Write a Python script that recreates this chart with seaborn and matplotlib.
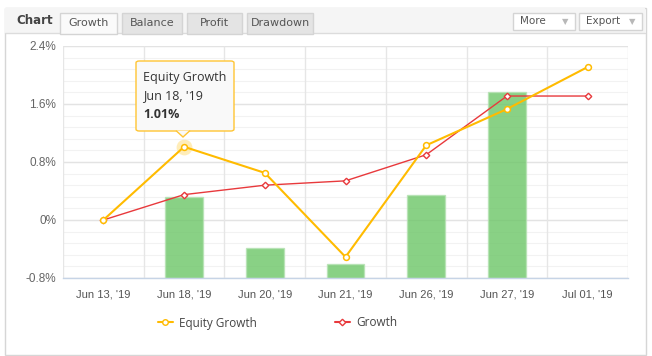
import numpy as np
import pandas as pd
import seaborn as sns
import matplotlib.pyplot as plt
from matplotlib.patches import Rectangle, FancyBboxPatch, Polygon
from matplotlib.lines import Line2D

# chart data (percent)
dates = ["Jun 13, '19", "Jun 18, '19", "Jun 20, '19", "Jun 21, '19",
         "Jun 26, '19", "Jun 27, '19", "Jul 01, '19"]
equity_growth = [0.0, 1.01, 0.65, -0.51, 1.03, 1.53, 2.11]
growth = [0.0, 0.35, 0.48, 0.54, 0.90, 1.71, 1.71]
bar_values = [np.nan, 0.32, -0.39, -0.61, 0.34, 1.76, np.nan]
y_ticks = [-0.8, 0, 0.8, 1.6, 2.4]
y_labels = ["-0.8%", "0%", "0.8%", "1.6%", "2.4%"]
ymin, ymax = -0.8, 2.4

W, H = 652, 356
sns.set_style("white")
plt.rcParams["font.family"] = ["Liberation Sans", "DejaVu Sans"]

fig = plt.figure(figsize=(W / 100, H / 100), dpi=100)
fig.patch.set_facecolor("white")


def fx(x):
    return x / W


def fy(y):
    return 1 - y / H


# outer panel + header (behind the axes)
fig.add_artist(Rectangle((fx(4.5), fy(355)), fx(645.5) - fx(4.5), fy(7.5) - fy(355),
                         transform=fig.transFigure, fc="white", ec="#d6d6d6", lw=1,
                         zorder=-3))
fig.add_artist(Rectangle((fx(5), fy(33)), fx(645) - fx(5), fy(8) - fy(33),
                         transform=fig.transFigure, fc="#f5f5f5", ec="none", zorder=-2))
fig.add_artist(Line2D([fx(5), fx(645)], [fy(33), fy(33)], transform=fig.transFigure,
                      color="#dcdcdc", lw=1, zorder=-2))
fig.text(fx(16), fy(21), "Chart", fontsize=8.5, fontweight="bold", color="#444444",
         va="center", family=["DejaVu Sans"])
tabs = [("Growth", 60, 117, True), ("Balance", 122, 182, False),
        ("Profit", 187, 242, False), ("Drawdown", 247, 313, False)]
for name, x0, x1, active in tabs:
    fig.add_artist(Rectangle((fx(x0), fy(33.5)), fx(x1) - fx(x0), fy(12.5) - fy(33.5),
                             transform=fig.transFigure,
                             fc="#fafafa" if active else "#e4e4e4",
                             ec="#d4d4d4", lw=1, zorder=-1))
    fig.text(fx((x0 + x1) / 2), fy(23), name, fontsize=8, color="#555555",
             ha="center", va="center", family=["DejaVu Sans"])
for name, x0, x1 in [("More", 513, 575), ("Export", 579, 642)]:
    fig.add_artist(Rectangle((fx(x0), fy(30)), fx(x1) - fx(x0), fy(13) - fy(30),
                             transform=fig.transFigure, fc="white", ec="#d4d4d4", lw=1,
                             zorder=-1))
    fig.text(fx(x0 + 7), fy(21.5), name, fontsize=7.5, color="#555555",
             va="center", family=["DejaVu Sans"])
    fig.text(fx(x1 - 10), fy(21.5), "\u25bc", fontsize=6, color="#b8b8b8",
             ha="center", va="center", family=["DejaVu Sans"])

# plot area
ax = fig.add_axes([fx(63), fy(278), fx(628) - fx(63), fy(46) - fy(278)])
ax.set_facecolor("none")
x = np.arange(len(dates))

df = pd.DataFrame({"pos": x, "date": dates, "equity": equity_growth,
                   "growth": growth, "bar": bar_values})
df["bar_h"] = df["bar"] - ymin

# grid
for v in np.arange(ymin, ymax + 0.001, 0.16):
    ax.axhline(v, color="#f2f2f2", lw=0.8, zorder=0)
for v in y_ticks:
    ax.axhline(v, color="#e3e3e3", lw=1, zorder=0)
for b in np.arange(len(dates) + 1) - 0.5:
    ax.axvline(b, color="#e6e6e6", lw=1, zorder=0)

sns.barplot(data=df, x="pos", y="bar_h", bottom=ymin, width=0.47,
            color="#6cc667", saturation=1, alpha=0.8, edgecolor="#b6e2b3",
            linewidth=1, ax=ax, zorder=2, native_scale=True)

# hover halo on the tooltip point
ax.scatter([x[1]], [equity_growth[1]], s=130, color="#ffe9a8", alpha=0.8,
           zorder=3, linewidths=0)

sns.lineplot(data=df, x="pos", y="growth", color="#e8393c", lw=1, marker="D",
             markersize=3.3, markerfacecolor="white", markeredgecolor="#e8393c",
             markeredgewidth=1, ax=ax, zorder=4, sort=False)
sns.lineplot(data=df, x="pos", y="equity", color="#ffbb00", lw=1.5, marker="o",
             markersize=4.2, markerfacecolor="white", markeredgecolor="#ffbb00",
             markeredgewidth=1.1, ax=ax, zorder=5, sort=False)

ax.set_xlim(-0.5, len(dates) - 0.5)
ax.set_ylim(ymin, ymax)
ax.set_xticks(x)
ax.set_xticklabels(dates, fontsize=8, color="#555555")
ax.set_yticks(y_ticks)
ax.set_yticklabels(y_labels, fontsize=8.5, color="#666666")
ax.tick_params(length=0, pad=8)
ax.tick_params(axis="y", pad=5)
ax.set_xlabel("")
ax.set_ylabel("")
for s in ["top", "left", "right"]:
    ax.spines[s].set_visible(False)
ax.spines["bottom"].set_color("#c6d4e6")
ax.spines["bottom"].set_linewidth(1)

# tooltip
fig.add_artist(FancyBboxPatch((fx(136), fy(131)), fx(234) - fx(136), fy(61) - fy(131),
                              boxstyle="round,pad=0,rounding_size=0.005",
                              transform=fig.transFigure, fc="#f9f9f9",
                              ec="#ffc533", lw=1, zorder=10))
fig.add_artist(Polygon([[fx(176), fy(130.6)], [fx(183), fy(137)], [fx(190), fy(130.6)]],
                       closed=False, transform=fig.transFigure, fc="#f9f9f9",
                       ec="#ffc533", lw=1, zorder=11))
fig.text(fx(143), fy(78), "Equity Growth", fontsize=9, color="#333333",
         va="center", zorder=12, family=["Open Sans", "DejaVu Sans"])
fig.text(fx(143), fy(96), "Jun 18, '19", fontsize=9, color="#333333",
         va="center", zorder=12, family=["Open Sans", "DejaVu Sans"])
fig.text(fx(143), fy(114), "%.2f%%" % equity_growth[1], fontsize=9, color="#333333",
         fontweight="bold", va="center", zorder=12, family=["Open Sans", "DejaVu Sans"])

# legend
handles = [
    Line2D([], [], color="#ffbb00", lw=1.5, marker="o", markersize=4,
           markerfacecolor="white", markeredgecolor="#ffbb00"),
    Line2D([], [], color="#e8393c", lw=1.5, marker="D", markersize=3.3,
           markerfacecolor="white", markeredgecolor="#e8393c"),
]
fig.legend(handles, ["Equity Growth", "Growth"], loc="center left",
           bbox_to_anchor=(fx(147), fy(323)), ncol=2, frameon=False,
           handlelength=1.3, handletextpad=0.5, columnspacing=6.6,
           labelcolor="#444444", prop={"family": ["Open Sans", "DejaVu Sans"], "size": 8.5})

fig.savefig("out.png", dpi=100)
